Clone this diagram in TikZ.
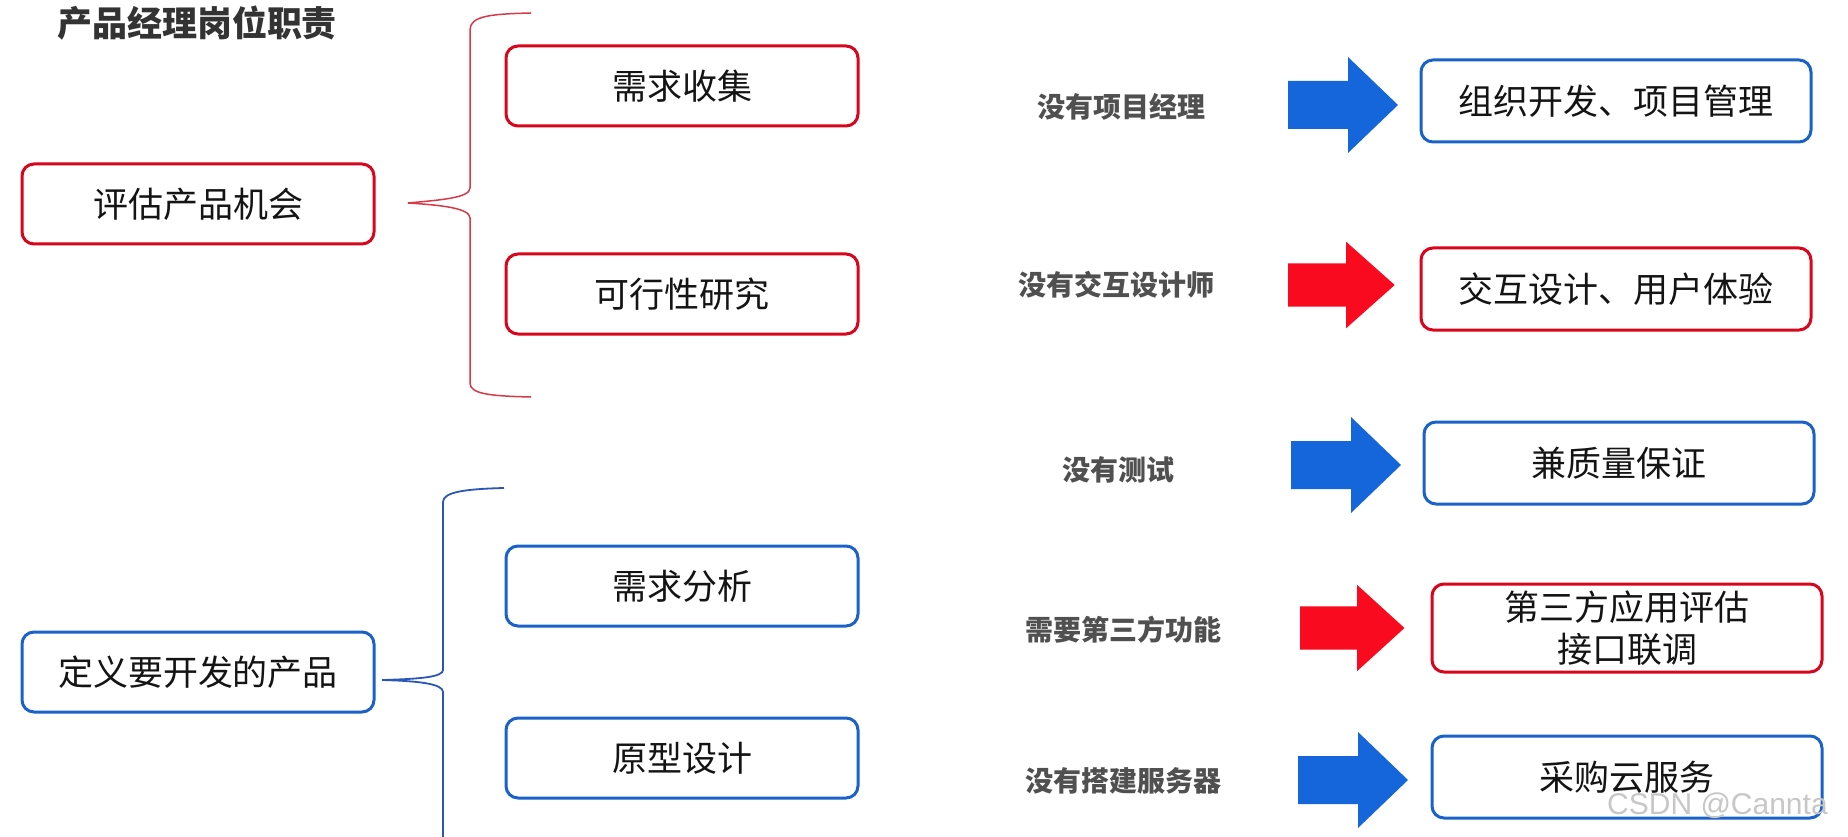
\documentclass[tikz,border=0pt]{standalone}
\usepackage{fontspec}
\newfontfamily\cjk{Noto Sans CJK SC}
\setsansfont{Liberation Sans}
\definecolor{boxred}{HTML}{D8051C}
\definecolor{boxblue}{HTML}{1A62C8}
\definecolor{arrblue}{HTML}{1466DA}
\definecolor{arrred}{HTML}{FA0A1E}
\definecolor{bracered}{HTML}{D63A48}
\definecolor{braceblue}{HTML}{2A56B8}
\definecolor{labgray}{HTML}{505050}
\tikzset{
  basebox/.style={line width=3pt, rounded corners=12pt, fill=white, align=center,
    font=\cjk\fontsize{35}{42}\selectfont, text=black!92, inner sep=0pt},
  redbox/.style={basebox, draw=boxred},
  bluebox/.style={basebox, draw=boxblue},
  leftsize/.style={minimum width=352pt, minimum height=80pt},
  rightsize/.style={minimum width=390pt, minimum height=82pt},
  lab/.style={font=\cjk\bfseries\fontsize{28}{32}\selectfont, text=labgray, inner sep=0pt},
  blockarr/.pic={\path[pic actions] (0,-24) -- (60,-24) -- (60,-48) -- (110,0) -- (60,48) -- (60,24) -- (0,24) -- cycle;},
}
\begin{document}
\begin{tikzpicture}[x=1pt,y=-1pt]
\useasboundingbox[fill=white] (0,0) rectangle (1848,837);

\node[font=\cjk\bfseries\fontsize{35}{40}\selectfont, text=black!80, inner sep=0pt] (title) at (197,23) {产品经理岗位职责};

% left column
\node[redbox, leftsize] (eval) at (198,204) {评估产品机会};
\node[redbox, leftsize] (need) at (682,86) {需求收集};
\node[redbox, leftsize] (feas) at (682,294) {可行性研究};
\node[bluebox, leftsize] (def) at (198,672) {定义要开发的产品};
\node[bluebox, leftsize] (anal) at (682,586) {需求分析};
\node[bluebox, leftsize] (proto) at (682,758) {原型设计};

% braces
\draw[bracered, line width=1.5pt] (531,13) .. controls (490,14) and (470,16) .. (470,30)
  -- (470,188) .. controls (470,198) and (440,200) .. (408,203)
  .. controls (440,205) and (470,208) .. (470,218)
  -- (470,383) .. controls (470,394) and (490,396) .. (531,397);
\draw[braceblue, line width=1.8pt] (504,488) .. controls (465,489) and (443,492) .. (443,502)
  -- (443,670) .. controls (443,677) and (420,679) .. (382,680)
  .. controls (420,681) and (443,684) .. (443,692) -- (443,845);

% labels
\node[lab] (l1) at (1121,107) {没有项目经理};
\node[lab] (l2) at (1116,285) {没有交互设计师};
\node[lab] (l3) at (1118,470) {没有测试};
\node[lab] (l4) at (1123,630) {需要第三方功能};
\node[lab] (l5) at (1123,781) {没有搭建服务器};

% arrows
\pic[fill=arrblue] at (1288,105) {blockarr};
\pic[fill=arrred, yscale=0.9, xscale=0.97] at (1288,285) {blockarr};
\pic[fill=arrblue] at (1291,465) {blockarr};
\pic[fill=arrred, yscale=0.9, xscale=0.95] at (1300,628) {blockarr};
\pic[fill=arrblue] at (1298,780) {blockarr};

% right column
\node[bluebox, rightsize] (r1) at (1616,101) {组织开发、项目管理};
\node[redbox, rightsize] (r2) at (1616,289) {交互设计、用户体验};
\node[bluebox, rightsize] (r3) at (1619,463) {兼质量保证};
\node[redbox, rightsize, minimum height=88pt] (r4) at (1627,628) {第三方应用评估\\接口联调};
\node[bluebox, rightsize] (r5) at (1627,777) {采购云服务};

% watermark
\node[font=\sffamily\fontsize{30}{34}\selectfont, text=black!22, anchor=west, inner sep=0pt] (wm) at (1607,806) {CSDN @Cannta};
\end{tikzpicture}
\end{document}
